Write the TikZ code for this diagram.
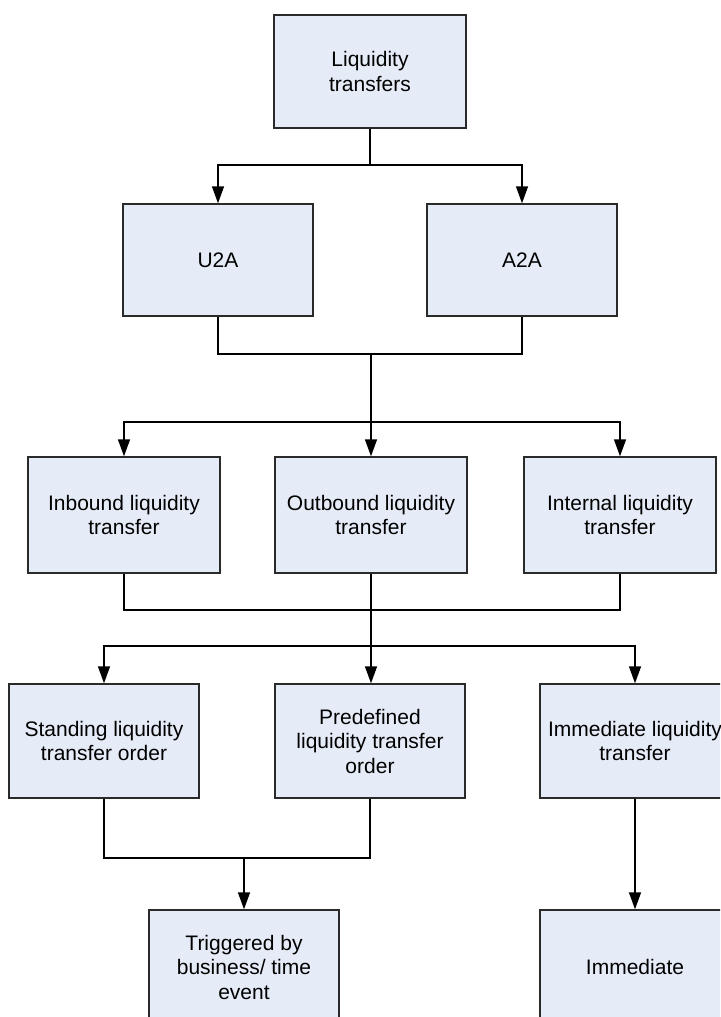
\documentclass[tikz,border=0pt]{standalone}
\usepackage{fontspec}
\setmainfont{Liberation Sans}
\usetikzlibrary{arrows.meta}
\definecolor{boxfill}{HTML}{E6ECF7}
\definecolor{boxline}{HTML}{2A2A2A}
\begin{document}
\begin{tikzpicture}[x=1pt,y=-1pt,
  box/.style={draw=boxline,fill=boxfill,line width=1.4pt,inner sep=0pt,
    minimum width=190pt,align=center,font=\fontsize{21}{24.5}\selectfont},
  conn/.style={draw=black,line width=1.4pt},
  arr/.style={conn,-{Triangle[width=12pt,length=17pt]}}]
\useasboundingbox (0,0) rectangle (720,1017);
\clip (0,0) rectangle (720,1017);
\fill[white] (0,0) rectangle (720,1017);

\node[box,minimum width=192pt,minimum height=113pt] (lt) at (370,71.5) {Liquidity\\transfers};
\node[box,minimum height=112pt] (u2a) at (218,260) {U2A};
\node[box,minimum height=112pt] (a2a) at (522,260) {A2A};

\node[box,minimum width=192pt,minimum height=116pt] (inb) at (124,515) {Inbound liquidity\\transfer};
\node[box,minimum width=192pt,minimum height=116pt] (outb) at (371,515) {Outbound liquidity\\transfer};
\node[box,minimum width=192pt,minimum height=116pt] (intl) at (620,515) {Internal liquidity\\transfer};

\node[box,minimum height=114pt] (stand) at (104,741) {Standing liquidity\\transfer order};
\node[box,minimum height=114pt] (pred) at (370,741) {Predefined\\liquidity transfer\\order};
\node[box,minimum height=114pt] (immt) at (635,741) {Immediate liquidity\\transfer};

\node[box,minimum height=114pt] (trig) at (244,967) {Triggered by\\business/ time\\event};
\node[box,minimum height=114pt] (imm) at (635,967) {Immediate};

\coordinate (j1) at (370,165);
\coordinate (j2) at (371,354);
\coordinate (j3) at (371,422);
\coordinate (j4) at (371,610);
\coordinate (j5) at (371,646);
\coordinate (j6) at (244,858);

\draw[conn] (lt.south) -- (j1);
\draw[arr] (j1) -| (u2a.north);
\draw[arr] (j1) -| (a2a.north);

\draw[conn] (u2a.south) |- (j2) -| (a2a.south);
\draw[conn] (j2) -- (j3);
\draw[arr] (j3) -| (inb.north);
\draw[arr] (j3) -- (j3 |- outb.north);
\draw[arr] (j3) -| (intl.north);

\draw[conn] (inb.south) |- (j4) -| (intl.south);
\draw[conn] (j4 |- outb.south) -- (j5);
\draw[arr] (j5) -| (stand.north);
\draw[arr] (j5) -- (j5 |- pred.north);
\draw[arr] (j5) -| (immt.north);

\draw[conn] (stand.south) |- (j6) -| (pred.south);
\draw[arr] (j6) -- (trig.north);
\draw[arr] (immt.south) -- (imm.north);
\end{tikzpicture}
\end{document}
